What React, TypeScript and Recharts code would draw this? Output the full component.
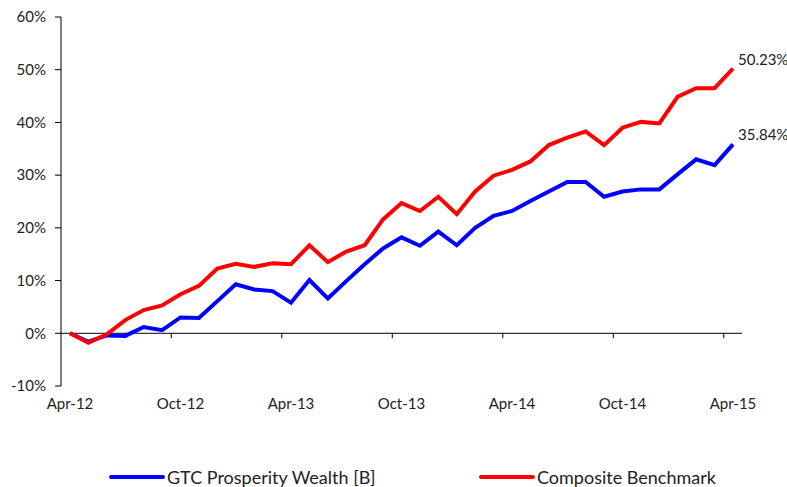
// App.tsx
// Cumulative return: GTC Prosperity Wealth [B] vs Composite Benchmark, Apr-12 to Apr-15.
import {
  LineChart, Line, XAxis, YAxis, ReferenceLine, Legend, LabelList,
} from "recharts";

const FONT = "Lato, 'DejaVu Sans', sans-serif";
const TEXT = "#222";

const months = [
  "Apr-12", "May-12", "Jun-12", "Jul-12", "Aug-12", "Sep-12", "Oct-12", "Nov-12", "Dec-12",
  "Jan-13", "Feb-13", "Mar-13", "Apr-13", "May-13", "Jun-13", "Jul-13", "Aug-13", "Sep-13",
  "Oct-13", "Nov-13", "Dec-13", "Jan-14", "Feb-14", "Mar-14", "Apr-14", "May-14", "Jun-14",
  "Jul-14", "Aug-14", "Sep-14", "Oct-14", "Nov-14", "Dec-14", "Jan-15", "Feb-15", "Mar-15",
  "Apr-15",
];

// cumulative return, %
const gtcValues = [
  0, -1.6, -0.4, -0.5, 1.2, 0.6, 3.0, 2.9, 6.1, 9.3, 8.3, 8.0,
  5.8, 10.1, 6.6, 9.9, 13.1, 16.1, 18.2, 16.6, 19.3, 16.7, 20.0, 22.3,
  23.2, 25.1, 26.9, 28.7, 28.7, 25.9, 26.9, 27.3, 27.3, 30.2, 33.0, 31.9,
  35.84,
];

const benchValues = [
  0, -1.8, -0.2, 2.5, 4.4, 5.3, 7.4, 9.0, 12.3, 13.2, 12.6, 13.3,
  13.1, 16.7, 13.5, 15.5, 16.7, 21.6, 24.7, 23.2, 25.9, 22.6, 26.9, 29.9,
  31.0, 32.6, 35.7, 37.1, 38.3, 35.7, 39.0, 40.1, 39.8, 44.9, 46.5, 46.5,
  50.23,
];

const yTicks = [-10, 0, 10, 20, 30, 40, 50, 60];

const data = months.map((m, i) => ({ month: m, gtc: gtcValues[i], bench: benchValues[i] }));

const X_PAD = 9;
const LABEL_EVERY = 6;

// zero line with Excel-style tick marks hanging below it, between categories
function ZeroAxis(props: any) {
  const { x1, x2, y1 } = props;
  const step = (x2 - x1 - 2 * X_PAD) / (months.length - 1);
  const marks = [];
  for (let i = LABEL_EVERY; i < months.length; i += LABEL_EVERY) {
    const x = x1 + X_PAD + (i - 0.5) * step;
    marks.push(<line key={i} x1={x} x2={x} y1={y1} y2={y1 + 5} stroke="#000" strokeWidth={1} />);
  }
  return (
    <g>
      <line x1={x1} x2={x2} y1={y1} y2={y1} stroke="#000" strokeWidth={1} />
      {marks}
    </g>
  );
}

function EndLabel(props: any) {
  const { x, y, index, value } = props;
  if (index !== months.length - 1) return null;
  return (
    <text x={x + 5} y={y - 4} fill={TEXT} fontSize={15} fontFamily={FONT}>
      {Number(value).toFixed(2)}%
    </text>
  );
}

function LegendBox() {
  const item = (color: string, label: string, left: number) => (
    <div style={{ position: "absolute", left, top: 0, display: "flex", alignItems: "center" }}>
      <svg width={58} height={20}>
        <line x1={3} x2={55} y1={10} y2={10} stroke={color} strokeWidth={4} strokeLinecap="round" />
      </svg>
      <span style={{ fontFamily: FONT, fontSize: 18, color: TEXT, marginLeft: 1 }}>{label}</span>
    </div>
  );
  return (
    <div style={{ position: "relative", width: 787, height: 20 }}>
      {item("#0000ff", "GTC Prosperity Wealth [B]", 108)}
      {item("#ff0000", "Composite Benchmark", 478)}
    </div>
  );
}

export default function App() {
  return (
    <div style={{ position: "absolute", left: 0, top: 0, background: "#fff" }}>
      <LineChart width={787} height={487} data={data} margin={{ top: 17, right: 45, left: 0, bottom: 1 }}>
        <XAxis
          dataKey="month"
          interval={LABEL_EVERY - 1}
          axisLine={false}
          tickLine={false}
          height={80}
          padding={{ left: X_PAD, right: X_PAD }}
          tick={{ fill: TEXT, fontSize: 15, fontFamily: FONT }}
          tickMargin={6}
        />
        <YAxis
          domain={[-10, 60]}
          ticks={yTicks}
          width={61}
          tickFormatter={(v: number) => `${v}%`}
          axisLine={{ stroke: "#000" }}
          tickLine={{ stroke: "#000" }}
          tickSize={6}
          tickMargin={9}
          tick={{ fill: TEXT, fontSize: 15, fontFamily: FONT }}
          allowDataOverflow
        />
        <ReferenceLine y={0} shape={ZeroAxis} />
        <Line
          dataKey="gtc"
          name="GTC Prosperity Wealth [B]"
          stroke="#0000ff"
          strokeWidth={4}
          dot={false}
          isAnimationActive={false}
        >
          <LabelList dataKey="gtc" content={EndLabel} />
        </Line>
        <Line
          dataKey="bench"
          name="Composite Benchmark"
          stroke="#ff0000"
          strokeWidth={4}
          dot={false}
          isAnimationActive={false}
        >
          <LabelList dataKey="bench" content={EndLabel} />
        </Line>
        <Legend verticalAlign="bottom" height={20} content={LegendBox} />
      </LineChart>
    </div>
  );
}
